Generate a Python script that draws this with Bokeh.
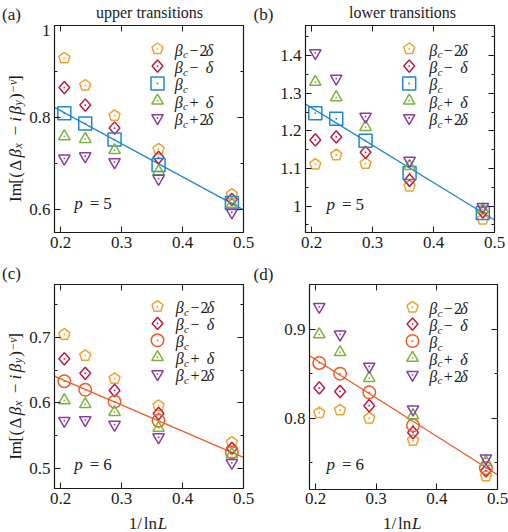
import math
from bokeh.plotting import figure
from bokeh.layouts import column, row
from bokeh.models import Range1d, LinearAxis, FixedTicker, Label
from bokeh.embed import file_html
from bokeh.resources import INLINE

# ---------------- data ----------------
inv_lnL = [0.2061, 0.2404, 0.2885, 0.3607, 0.4809]   # 1/ln L, L = 128, 64, 32, 16, 8
x_ticks = [0.2, 0.3, 0.4, 0.5]
x_tick_labels = {0.2: "0.2", 0.3: "0.3", 0.4: "0.4", 0.5: "0.5"}

# (a) upper transitions, p = 5
a_m2d = [0.929, 0.870, 0.804, 0.731, 0.633]
a_m1d = [0.865, 0.827, 0.777, 0.713, 0.622]
a_c   = [0.809, 0.787, 0.752, 0.697, 0.614]
a_p1d = [0.759, 0.753, 0.729, 0.683, 0.612]
a_p2d = [0.711, 0.716, 0.703, 0.667, 0.594]
a_fit = [0.9586, -0.719]          # intercept, slope
# (b) lower transitions, p = 5
b_m2d = [1.111, 1.136, 1.113, 1.053, 0.965]
b_m1d = [1.176, 1.184, 1.143, 1.069, 0.985]
b_c   = [1.247, 1.232, 1.174, 1.088, 0.982]
b_p1d = [1.330, 1.289, 1.210, 1.106, 0.991]
b_p2d = [1.407, 1.339, 1.238, 1.121, 0.998]
b_fit = [1.4598, -0.9935]
# (c) upper transitions, p = 6
c_m2d = [0.704, 0.672, 0.637, 0.596, 0.540]
c_m1d = [0.667, 0.645, 0.619, 0.584, 0.531]
c_c   = [0.633, 0.620, 0.602, 0.573, 0.525]
c_p1d = [0.604, 0.598, 0.586, 0.562, 0.522]
c_p2d = [0.573, 0.574, 0.567, 0.548, 0.509]
c_fit = [0.7162, -0.3977]
# (d) lower transitions, p = 6
d_m2d = [0.806, 0.809, 0.800, 0.775, 0.735]
d_m1d = [0.834, 0.830, 0.814, 0.784, 0.741]
d_c   = [0.862, 0.850, 0.829, 0.792, 0.744]
d_p1d = [0.894, 0.874, 0.845, 0.803, 0.751]
d_p2d = [0.925, 0.894, 0.858, 0.810, 0.755]
d_fit = [0.9520, -0.431]

a_yticks = [0.6, 0.8, 1.0]; a_yminor = [0.7, 0.9]; a_ylabels = {0.6: "0.6", 0.8: "0.8", 1.0: "1"}
b_yticks = [1.0, 1.1, 1.2, 1.3, 1.4]; b_yminor = [0.95, 1.05, 1.15, 1.25, 1.35, 1.45]
b_ylabels = {1.0: "1", 1.1: "1.1", 1.2: "1.2", 1.3: "1.3", 1.4: "1.4"}
c_yticks = [0.5, 0.6, 0.7]; c_yminor = [0.55, 0.65, 0.75]; c_ylabels = {0.5: "0.5", 0.6: "0.6", 0.7: "0.7"}
d_yticks = [0.8, 0.9]; d_yminor = [0.75, 0.85]; d_ylabels = {0.8: "0.8", 0.9: "0.9"}

# ---------------- style ----------------
FONT = "Liberation Serif"
INK = "#1a1a1a"
C_M2 = "#F0A22E"
C_M1 = "#C01A40"
C_C5 = "#1E86D6"
C_C6 = "#EF5A26"
C_P1 = "#7BB43A"
C_P2 = "#8A3CA4"
X_RANGE = (0.19, 0.5)
BASE_FIX = 0.2     # Label baseline correction, in units of the font size
YL_W = 26          # width of the strip that holds the rotated y-axis label

# page-pixel geometry: box = figure (x, y, w, h), frame = plotting area (x, y, w, h)
PANELS = {
    "a": dict(box=(YL_W, 24, 254 - YL_W, 232), frame=(52, 25, 189, 207), yr=(0.55, 1.0), xstand=4),
    "b": dict(box=(254, 24, 254, 232), frame=(303, 25, 189, 207), yr=(0.93, 1.48), xstand=4),
    "c": dict(box=(YL_W, 283, 254 - YL_W, 228), frame=(52, 284, 189, 204), yr=(0.47, 0.78), xstand=4),
    "d": dict(box=(254, 283, 254, 228), frame=(307, 284, 188, 205), yr=(0.72, 0.95), xstand=3),
}


def px2data(P, X, Y):
    x0, x1 = X_RANGE
    y0, y1 = P["yr"]
    fx, fy, fw, fh = P["frame"]
    return x0 + (X - fx) / fw * (x1 - x0), y1 - (Y - fy) / fh * (y1 - y0)


def fix_pos(X, Y, size, angle):
    if angle:
        return X - BASE_FIX * size, Y
    return X, Y - BASE_FIX * size


def make_label(x, y, text, size, italic, align, angle):
    return Label(x=x, y=y, text=text, text_font=FONT, text_font_size=f"{size}px",
                 text_font_style="italic" if italic else "normal",
                 text_align=align, text_baseline="alphabetic", angle=angle,
                 text_color=INK)


def add_text(p, P, X, Y, text, size=16, italic=False, align="left", angle=0.0):
    X, Y = fix_pos(X, Y, size, angle)
    x, y = px2data(P, X, Y)
    p.add_layout(make_label(x, y, text, size, italic, align, angle))


# ---- text strips (figures without axes whose frame is the whole box) ----
STRIP_ORIGIN = {}


def make_strip(name, ox, oy, w, h):
    s = figure(x_range=Range1d(0, w), y_range=Range1d(0, h), frame_width=w, frame_height=h,
               min_border=0, x_axis_location=None, y_axis_location=None,
               output_backend="svg", toolbar_location=None)
    s.grid.visible = False
    s.outline_line_color = None
    s.background_fill_color = "white"
    s.border_fill_color = "white"
    STRIP_ORIGIN[name] = (s, ox, oy, h)
    return s


def strip_text(name, X, Y, text, size=16, italic=False, align="left", angle=0.0):
    s, ox, oy, h = STRIP_ORIGIN[name]
    X, Y = fix_pos(X, Y, size, angle)
    s.add_layout(make_label(X - ox, h - (Y - oy), text, size, italic, align, angle))


def style_axis(ax, ticks, minor, labels):
    ax.ticker = FixedTicker(ticks=ticks, minor_ticks=minor)
    ax.major_tick_in = 6
    ax.major_tick_out = 0
    ax.minor_tick_in = 3
    ax.minor_tick_out = 0
    ax.major_tick_line_color = INK
    ax.minor_tick_line_color = INK
    ax.axis_line_color = INK
    if labels is None:
        ax.major_label_overrides = {t: "" for t in ticks}
        ax.major_label_text_font_size = "0px"
        ax.major_label_standoff = 0
    else:
        ax.major_label_overrides = labels
        ax.major_label_text_font = FONT
        ax.major_label_text_font_size = "17px"
        ax.major_label_text_color = INK


def make_fig(P, yticks, yminor, ylabels):
    ox, oy, W, H = P["box"]
    fx, fy, fw, fh = P["frame"]
    p = figure(x_range=Range1d(*X_RANGE), y_range=Range1d(*P["yr"]),
               frame_width=fw, frame_height=fh,
               min_border_left=fx - ox, min_border_right=ox + W - fx - fw,
               min_border_top=fy - oy, min_border_bottom=oy + H - fy - fh,
               output_backend="svg", toolbar_location=None)
    p.grid.visible = False
    p.outline_line_color = INK
    p.outline_line_width = 1.2
    p.background_fill_color = "white"
    p.border_fill_color = "white"
    style_axis(p.xaxis[0], x_ticks, [], x_tick_labels)
    p.xaxis[0].major_label_standoff = P["xstand"]
    style_axis(p.yaxis[0], yticks, yminor, ylabels)
    p.yaxis[0].major_label_standoff = 4
    top = LinearAxis()
    style_axis(top, x_ticks, [], None)
    p.add_layout(top, "above")
    right = LinearAxis()
    style_axis(right, yticks, yminor, None)
    p.add_layout(right, "right")
    return p


def polygon(P, x, y, offsets):
    fx, fy, fw, fh = P["frame"]
    sx = (X_RANGE[1] - X_RANGE[0]) / fw
    sy = (P["yr"][1] - P["yr"][0]) / fh
    return [x + dx * sx for dx, dy in offsets], [y + dy * sy for dx, dy in offsets]


PENT = [(5.8 * math.cos(math.pi / 2 + k * 2 * math.pi / 5), 5.8 * math.sin(math.pi / 2 + k * 2 * math.pi / 5))
        for k in range(5)]
DIAM = [(0, 6.2), (5.4, 0), (0, -6.2), (-5.4, 0)]


def draw_marks(p, P, xs, ys, kind, color):
    if kind in ("pentagon", "diamond"):
        shape = PENT if kind == "pentagon" else DIAM
        pxs, pys = [], []
        for x, y in zip(xs, ys):
            vx, vy = polygon(P, x, y, shape)
            pxs.append(vx)
            pys.append(vy)
        p.patches(pxs, pys, fill_color=None, line_color=color, line_width=1.5)
    else:
        size = {"square": 13, "circle": 12.5, "triangle": 11.5, "inverted_triangle": 11.5}[kind]
        p.scatter(xs, ys, marker=kind, size=size, fill_color=None, line_color=color, line_width=1.5)
    p.scatter(xs, ys, marker="circle", size=1.8, fill_color=color, line_color=None)


LEG_SIGNS = [("−", "2"), ("−", ""), ("", ""), ("+", ""), ("+", "2")]


def build(key, series, fit, c_color, c_kind, yticks, yminor, ylabels, legend_mx, legend_tx, legend_rows):
    P = PANELS[key]
    p = make_fig(P, yticks, yminor, ylabels)
    x0, x1 = X_RANGE
    p.line([x0, x1], [fit[0] + fit[1] * x0, fit[0] + fit[1] * x1], line_color=c_color, line_width=1.3)
    kinds = ["pentagon", "diamond", c_kind, "triangle", "inverted_triangle"]
    colors = [C_M2, C_M1, c_color, C_P1, C_P2]
    for ys, kind, col in zip(series, kinds, colors):
        draw_marks(p, P, inv_lnL, ys, kind, col)
    # legend
    for (sign, two), kind, col, ry in zip(LEG_SIGNS, kinds, colors, legend_rows):
        mx, my = px2data(P, legend_mx, ry)
        draw_marks(p, P, [mx], [my], kind, col)
        base = ry + 4.5
        add_text(p, P, legend_tx, base, "β", 16, True)
        add_text(p, P, legend_tx + 8.2, base + 3.2, "c", 11, True)
        if sign:
            add_text(p, P, legend_tx + 14.6, base, sign, 16)
            if two:
                add_text(p, P, legend_tx + 24.8, base, two, 16)
            add_text(p, P, legend_tx + 31.0, base, "δ", 16, True)
    return p, P


pa, Pa = build("a", [a_m2d, a_m1d, a_c, a_p1d, a_p2d], a_fit, C_C5, "square",
               a_yticks, a_yminor, a_ylabels, 155, 172.3, [48.3, 65.6, 82.9, 100.2, 117.5])
pb, Pb = build("b", [b_m2d, b_m1d, b_c, b_p1d, b_p2d], b_fit, C_C5, "square",
               b_yticks, b_yminor, b_ylabels, 406.7, 426.7, [48.3, 65.6, 82.9, 100.2, 117.5])
pc, Pc = build("c", [c_m2d, c_m1d, c_c, c_p1d, c_p2d], c_fit, C_C6, "circle",
               c_yticks, c_yminor, c_ylabels, 155, 173.3, [306, 322.9, 339.8, 356.7, 373.6])
pd_, Pd = build("d", [d_m2d, d_m1d, d_c, d_p1d, d_p2d], d_fit, C_C6, "circle",
                d_yticks, d_yminor, d_ylabels, 410, 426.7, [306.7, 323.6, 340.5, 357.4, 374.3])

# p = 5 / p = 6
for p, P, X, Y, n in [(pa, Pa, 71.7, 206.7, "5"), (pb, Pb, 324, 207, "5"),
                      (pc, Pc, 71.7, 467.5, "6"), (pd_, Pd, 324, 467.5, "6")]:
    add_text(p, P, X, Y, "p", 17, True)
    add_text(p, P, X + 15.5, Y, "=", 17)
    add_text(p, P, X + 29, Y, n, 17)

# strips holding the texts that sit outside the plotting frames
top_strip = make_strip("top", 0, 0, 508, 24)
yl_top = make_strip("yl_top", 0, 24, YL_W, 232)
mid_strip = make_strip("mid", 0, 256, 508, 27)
yl_bot = make_strip("yl_bot", 0, 283, YL_W, 228)
bot_strip = make_strip("bot", 0, 511, 508, 21)

strip_text("top", 1.5, 17.5, "(a)", 17)
strip_text("top", 253, 17.5, "(b)", 17)
strip_text("top", 149, 15, "upper transitions", 16, align="center")
strip_text("top", 402, 15, "lower transitions", 16, align="center")
strip_text("mid", 1.5, 276.5, "(c)", 17)
strip_text("mid", 253, 277, "(d)", 17)

for X in (128.3, 382.5):
    strip_text("bot", X, 526.5, "1/", 17)
    strip_text("bot", X + 15, 526.5, "ln", 17)
    strip_text("bot", X + 29, 526.5, "L", 17, True)

# rotated y-axis label Im[(Δβx − iβy)^−ν]; offsets measured from the start of "Im"
YL = [("Im", 0, 0, 17, False), ("[", -18.3, 0, 17, False), ("(", -24.3, 0, 17, False),
      ("Δ", -31.3, 0, 17, False), ("β", -44.5, 0, 17, True), ("x", -53.5, 1.4, 12, True),
      ("−", -66.6, 0, 17, False), ("i", -80.3, 0, 17, True), ("β", -87.5, 0, 17, True),
      ("y", -96.5, 1.4, 12, True), (")", -103.0, 0, 17, False), ("−ν", -109.0, -4.3, 12, True),
      ("]", -121.0, 0, 17, False)]
for name, Y0 in [("yl_top", 200.5), ("yl_bot", 458.3)]:
    for txt, dy, dx, sz, it in YL:
        strip_text(name, 18.8 + dx, Y0 + dy, txt, sz, it, angle=math.pi / 2)

layout = column(top_strip,
                row(yl_top, pa, pb),
                mid_strip,
                row(yl_bot, pc, pd_),
                bot_strip)
open("out.html", "w").write(file_html(layout, INLINE))
